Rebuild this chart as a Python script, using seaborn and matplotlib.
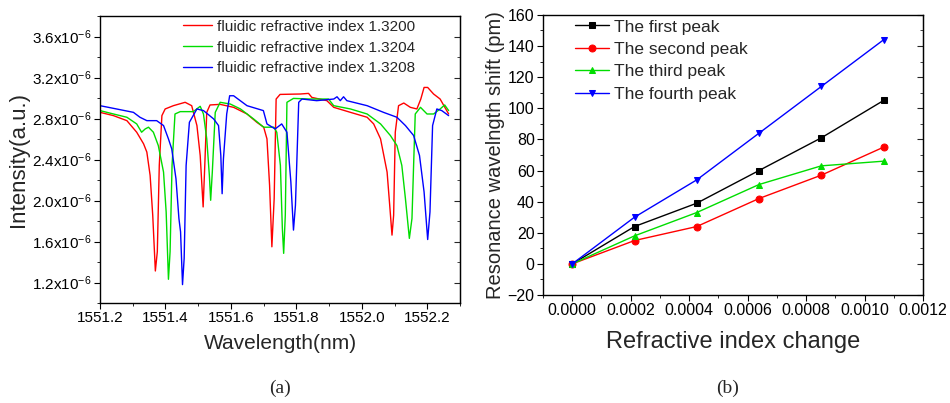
import matplotlib
matplotlib.use('Agg')
import matplotlib.pyplot as plt
import numpy as np
import pandas as pd
import seaborn as sns
from matplotlib.ticker import MultipleLocator, FuncFormatter

# ---- data: transmission spectra (wavelength in nm, intensity in 1e-6 a.u.) ----
wl_red = [1551.200, 1551.241, 1551.282, 1551.312, 1551.333, 1551.343, 1551.353, 1551.361,
          1551.369, 1551.375, 1551.381, 1551.389, 1551.399, 1551.424, 1551.460, 1551.480,
          1551.496, 1551.506, 1551.515, 1551.520, 1551.526, 1551.536, 1551.567, 1551.608,
          1551.649, 1551.679, 1551.700, 1551.710, 1551.718, 1551.725, 1551.732, 1551.738,
          1551.750, 1551.812, 1551.837, 1551.847, 1551.893, 1551.914, 1551.965, 1552.016,
          1552.036, 1552.057, 1552.077, 1552.085, 1552.092, 1552.097, 1552.102, 1552.112,
          1552.128, 1552.148, 1552.168, 1552.180, 1552.190, 1552.201, 1552.219, 1552.239,
          1552.265]
int_red = [2.861, 2.829, 2.780, 2.667, 2.554, 2.473, 2.246, 1.857,
           1.313, 1.501, 2.343, 2.829, 2.894, 2.926, 2.959, 2.926,
           2.732, 2.440, 1.938, 2.343, 2.861, 2.933, 2.939, 2.910,
           2.845, 2.764, 2.716, 2.602, 2.149, 1.549, 2.019, 2.991,
           3.036, 3.040, 3.046, 3.007, 2.975, 2.910, 2.861, 2.813,
           2.748, 2.602, 2.278, 1.954, 1.663, 1.857, 2.667, 2.926,
           2.952, 2.910, 2.894, 2.991, 3.104, 3.104, 3.040, 2.991,
           2.845]

wl_green = [1551.200, 1551.241, 1551.282, 1551.312, 1551.327, 1551.338, 1551.348, 1551.363,
            1551.378, 1551.394, 1551.402, 1551.409, 1551.414, 1551.420, 1551.429, 1551.445,
            1551.485, 1551.506, 1551.516, 1551.526, 1551.534, 1551.538, 1551.543, 1551.552,
            1551.567, 1551.598, 1551.629, 1551.669, 1551.700, 1551.731, 1551.740, 1551.751,
            1551.757, 1551.761, 1551.766, 1551.771, 1551.791, 1551.842, 1551.898, 1551.914,
            1551.965, 1552.016, 1552.057, 1552.087, 1552.107, 1552.122, 1552.133, 1552.145,
            1552.153, 1552.158, 1552.163, 1552.179, 1552.199, 1552.219, 1552.239, 1552.253,
            1552.265]
int_green = [2.878, 2.845, 2.813, 2.748, 2.667, 2.699, 2.716, 2.667,
             2.537, 2.278, 1.889, 1.232, 1.501, 2.343, 2.845, 2.868,
             2.868, 2.920, 2.845, 2.602, 2.246, 2.003, 2.278, 2.861,
             2.959, 2.942, 2.894, 2.797, 2.716, 2.716, 2.667, 2.343,
             1.728, 1.485, 1.857, 2.959, 2.997, 2.991, 2.991, 2.926,
             2.894, 2.845, 2.748, 2.635, 2.537, 2.343, 2.019, 1.631,
             1.825, 2.343, 2.845, 2.910, 2.845, 2.845, 2.894, 2.933,
             2.878]

wl_blue = [1551.200, 1551.241, 1551.302, 1551.322, 1551.343, 1551.373, 1551.394, 1551.409,
           1551.419, 1551.432, 1551.441, 1551.446, 1551.452, 1551.457, 1551.463, 1551.473,
           1551.496, 1551.516, 1551.547, 1551.562, 1551.569, 1551.573, 1551.577, 1551.587,
           1551.596, 1551.608, 1551.649, 1551.699, 1551.710, 1551.735, 1551.755, 1551.771,
           1551.783, 1551.791, 1551.797, 1551.807, 1551.817, 1551.862, 1551.914, 1551.924,
           1551.934, 1551.944, 1551.954, 1552.016, 1552.066, 1552.107, 1552.133, 1552.158,
           1552.176, 1552.190, 1552.201, 1552.208, 1552.216, 1552.229, 1552.244, 1552.265]
int_blue = [2.926, 2.900, 2.861, 2.813, 2.780, 2.780, 2.732, 2.602,
            2.505, 2.213, 1.825, 1.695, 1.180, 1.436, 2.343, 2.764,
            2.894, 2.878, 2.797, 2.732, 2.440, 2.067, 2.408, 2.845,
            3.023, 3.023, 2.926, 2.878, 2.748, 2.699, 2.748, 2.667,
            2.181, 1.712, 1.954, 2.959, 2.991, 2.975, 2.991, 3.013,
            2.975, 3.013, 2.975, 2.926, 2.861, 2.813, 2.732, 2.635,
            2.440, 2.084, 1.620, 1.889, 2.732, 2.894, 2.878, 2.829]

spec_labels = ['fluidic refractive index 1.3200',
               'fluidic refractive index 1.3204',
               'fluidic refractive index 1.3208']

# ---- data: resonance shift vs refractive index change ----
ri_change = [0.0, 0.000213, 0.000426, 0.000639, 0.000852, 0.001065]
first_peak = [0, 24, 39, 60, 81, 105]
second_peak = [0, 15, 24, 42, 57, 75]
third_peak = [0, 18, 33, 51, 63, 66]
fourth_peak = [0, 30, 54, 84, 114, 144]
peak_labels = ['The first peak', 'The second peak', 'The third peak', 'The fourth peak']

sns.set_style('white')
plt.rcParams['font.family'] = ['Liberation Sans', 'DejaVu Sans']
plt.rcParams['mathtext.default'] = 'regular'

fig = plt.figure(figsize=(9.5, 4.03), dpi=100)
ax1 = fig.add_axes([0.1053, 0.248, 0.379, 0.712])
ax2 = fig.add_axes([0.5716, 0.268, 0.400, 0.695])

# Panel (a)
spectra = [(wl_red, int_red, '#ff0000'), (wl_green, int_green, '#00dd00'), (wl_blue, int_blue, '#0000ff')]
for (wl, inten, col), lab in zip(spectra, spec_labels):
    df = pd.DataFrame({'wl': wl, 'I': np.array(inten) * 1e-6})
    sns.lineplot(data=df, x='wl', y='I', ax=ax1, color=col, lw=1.0, label=lab, sort=False)

ax1.set_xlim(1551.2, 1552.3)
ax1.set_ylim(1.0e-6, 3.8e-6)
ax1.xaxis.set_major_locator(MultipleLocator(0.2))
ax1.xaxis.set_minor_locator(MultipleLocator(0.1))
ax1.yaxis.set_major_locator(MultipleLocator(0.4e-6))
ax1.yaxis.set_minor_locator(MultipleLocator(0.2e-6))
ax1.xaxis.set_major_formatter(FuncFormatter(lambda v, p: f'{v:.1f}'))
ax1.yaxis.set_major_formatter(FuncFormatter(lambda v, p: f'{v*1e6:.1f}x10$^{{-6}}$'))
ax1.set_xlabel('Wavelength(nm)', fontsize=15, labelpad=6)
ax1.set_ylabel('Intensity(a.u.)', fontsize=16, labelpad=2)
ax1.legend(loc='upper left', bbox_to_anchor=(0.20, 1.025), frameon=False, fontsize=11,
           handlelength=1.9, handletextpad=0.35, labelspacing=0.45, borderaxespad=0.3)

# Panel (b)
series = [(first_peak, 's', 'black'), (second_peak, 'o', '#ff0000'),
          (third_peak, '^', '#00dd00'), (fourth_peak, 'v', '#0000ff')]
for (vals, mk, col), lab in zip(series, peak_labels):
    df = pd.DataFrame({'dn': ri_change, 'shift': vals})
    sns.lineplot(data=df, x='dn', y='shift', ax=ax2, color=col, marker=mk, markersize=5,
                 markeredgecolor=col, lw=1.0, label=lab)

ax2.set_xlim(-0.0001, 0.0012)
ax2.set_ylim(-20, 160)
ax2.xaxis.set_major_locator(MultipleLocator(0.0002))
ax2.xaxis.set_minor_locator(MultipleLocator(0.0001))
ax2.yaxis.set_major_locator(MultipleLocator(20))
ax2.yaxis.set_minor_locator(MultipleLocator(10))
ax2.xaxis.set_major_formatter(FuncFormatter(lambda v, p: f'{v:.4f}'))
ax2.set_xlabel('Refractive index change', fontsize=17, labelpad=9)
ax2.set_ylabel('Resonance wavelngth shift (pm)', fontsize=14.5, labelpad=2)
ax2.legend(loc='upper left', frameon=False, fontsize=12.5, handlelength=2.0,
           handletextpad=0.3, labelspacing=0.42, borderaxespad=0.1, bbox_to_anchor=(0.06, 1.015))

for ax in (ax1, ax2):
    for sp in ax.spines.values():
        sp.set_color('black')
        sp.set_linewidth(1.0)
    ax.tick_params(which='both', direction='out', left=True, bottom=True,
                   labelsize=11, colors='black', pad=2)
    ax.tick_params(which='major', length=4)
    ax.tick_params(which='minor', length=2.5)
    sec = ax.secondary_yaxis('right')
    sec.yaxis.set_major_locator(ax.yaxis.get_major_locator())
    sec.yaxis.set_minor_locator(ax.yaxis.get_minor_locator())
    sec.tick_params(which='both', direction='in', labelright=False)
    sec.tick_params(which='major', length=4)
    sec.tick_params(which='minor', length=2.5)

ax2.tick_params(axis='both', labelsize=11.5)

fig.text(0.295, 0.037, '(a)', family=['Liberation Serif'], fontsize=14, ha='center', va='center')
fig.text(0.766, 0.037, '(b)', family=['Liberation Serif'], fontsize=14, ha='center', va='center')

fig.savefig('out.png', dpi=100)
